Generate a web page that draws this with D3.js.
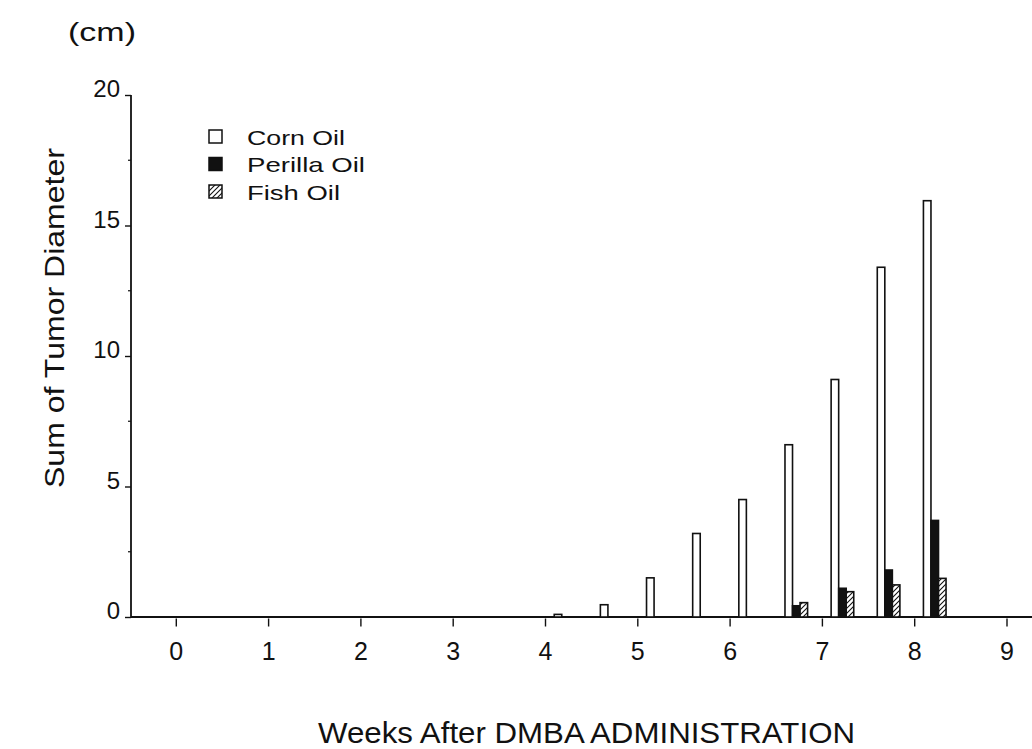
<!DOCTYPE html>
<html>
<head>
<meta charset="utf-8">
<script src="https://cdn.jsdelivr.net/npm/d3@7/dist/d3.min.js"></script>
<style>
  html, body { margin: 0; padding: 0; background: #fff; }
  svg text { font-family: "Liberation Sans", Arial, Helvetica, sans-serif; fill: #111; }
</style>
</head>
<body>
<svg id="chart" width="1032" height="749"></svg>
<script>
// ---- data ----
const weeks   = [4, 4.5, 5, 5.5, 6, 6.5, 7, 7.5, 8];
const corn    = [0.1, 0.47, 1.5, 3.2, 4.5, 6.6, 9.1, 13.4, 15.95];
const perilla = [0, 0, 0, 0, 0, 0.43, 1.1, 1.8, 3.7];
const fish    = [0, 0, 0, 0, 0, 0.55, 0.97, 1.23, 1.48];
const seriesNames = ["Corn Oil", "Perilla Oil", "Fish Oil"];
const xTicks = [0, 1, 2, 3, 4, 5, 6, 7, 8, 9];
const yTicks = [0, 5, 10, 15, 20];
const yMinorTicks = [2.5, 7.5, 12.5, 17.5];

const svg = d3.select("#chart");

// pattern for fish oil
const defs = svg.append("defs");
const pat = defs.append("pattern").attr("id", "hatch")
  .attr("patternUnits", "userSpaceOnUse").attr("width", 5).attr("height", 5);
pat.append("rect").attr("width", 5).attr("height", 5).attr("fill", "#fff");
pat.append("path").attr("d", "M-1,1 L1,-1 M0,5 L5,0 M4,6 L6,4")
  .attr("stroke", "#111").attr("stroke-width", 1.1);

const x = d3.scaleLinear().domain([0, 9]).range([175.8, 1006.5]);
const y = d3.scaleLinear().domain([0, 20]).range([617, 95]);

const axisLeftX = 131;

// ---- y axis ----
const gy = svg.append("g").attr("transform", `translate(${axisLeftX},0)`);
gy.call(d3.axisLeft(y).tickValues(yTicks).tickSize(6).tickSizeOuter(0).tickPadding(5).tickFormat(d3.format("d")));
gy.select(".domain").remove();
gy.selectAll(".tick line").attr("stroke", "#111").attr("stroke-width", 1.4);
gy.selectAll(".tick text").attr("font-size", 24).attr("fill", "#111").attr("dy", "0.08em");
gy.append("g").selectAll("line").data(yMinorTicks).join("line")
  .attr("x1", -3).attr("x2", 0).attr("y1", d => y(d)).attr("y2", d => y(d))
  .attr("stroke", "#111").attr("stroke-width", 1.2);
gy.append("line").attr("x1", 0).attr("x2", 0).attr("y1", y(20)).attr("y2", y(0))
  .attr("stroke", "#111").attr("stroke-width", 1.8);

// ---- x axis ----
const gx = svg.append("g").attr("transform", `translate(0,${y(0) + 1.5})`);
gx.call(d3.axisBottom(x).tickValues(xTicks).tickSize(8).tickSizeOuter(0).tickPadding(16).tickFormat(d3.format("d")));
gx.select(".domain").remove();
gx.selectAll(".tick line").attr("stroke", "#111").attr("stroke-width", 1.4);
gx.selectAll(".tick text").attr("font-size", 25).attr("fill", "#111");
svg.append("line").attr("x1", axisLeftX).attr("x2", 1032).attr("y1", y(0)).attr("y2", y(0))
  .attr("stroke", "#111").attr("stroke-width", 1.8);

// ---- bars ----
const groupStart = 0.1, groupWidth = 0.245;
const inner = d3.scaleBand().domain(seriesNames).range([0, x(groupWidth) - x(0)]);
const fills = { "Corn Oil": "#fff", "Perilla Oil": "#111", "Fish Oil": "url(#hatch)" };
const valuesBy = { "Corn Oil": corn, "Perilla Oil": perilla, "Fish Oil": fish };
const barData = [];
weeks.forEach((w, i) => seriesNames.forEach(s => {
  const v = valuesBy[s][i];
  if (v > 0) barData.push({ w, s, v });
}));
svg.append("g").selectAll("rect").data(barData).join("rect")
  .attr("x", d => x(d.w + groupStart) + inner(d.s))
  .attr("width", inner.bandwidth())
  .attr("y", d => y(d.v))
  .attr("height", d => y(0) - y(d.v))
  .attr("fill", d => fills[d.s])
  .attr("stroke", "#111").attr("stroke-width", 1.6);

// ---- legend ----
const legendLens = [98, 118, 93];
const lg = svg.append("g");
seriesNames.forEach((s, i) => {
  const cy = 137 + i * 27.5;
  lg.append("rect").attr("x", 209).attr("y", cy - 7).attr("width", 13).attr("height", 13)
    .attr("fill", fills[s]).attr("stroke", "#111").attr("stroke-width", 1.5);
  lg.append("text").attr("x", 247).attr("y", cy + 7.5).attr("font-size", 21)
    .attr("textLength", legendLens[i]).attr("lengthAdjust", "spacingAndGlyphs").text(s);
});

// ---- titles ----
svg.append("text").attr("x", 68).attr("y", 41).attr("font-size", 25)
  .attr("textLength", 68).attr("lengthAdjust", "spacingAndGlyphs").text("(cm)");
svg.append("text").attr("transform", "translate(64,318) rotate(-90)")
  .attr("text-anchor", "middle").attr("font-size", 28)
  .attr("textLength", 340).attr("lengthAdjust", "spacingAndGlyphs").text("Sum of Tumor Diameter");
svg.append("text").attr("x", 318).attr("y", 743).attr("font-size", 29)
  .attr("textLength", 537).attr("lengthAdjust", "spacingAndGlyphs").text("Weeks After DMBA ADMINISTRATION");
</script>
</body>
</html>
